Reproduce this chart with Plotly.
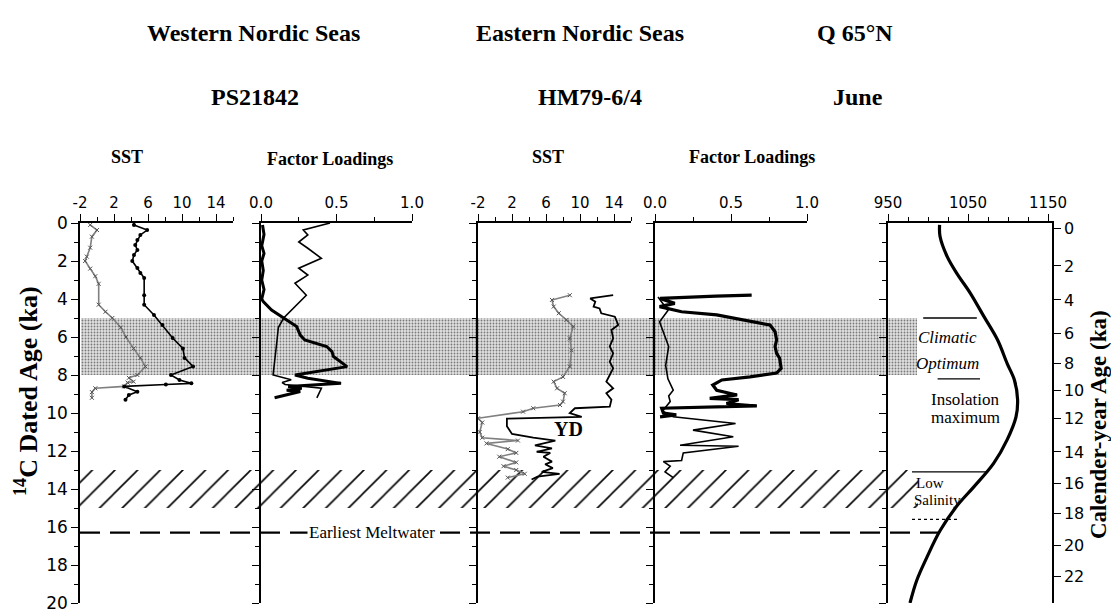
import plotly.graph_objects as go

# ---------------- data ----------------
# Western Nordic Seas, PS21842 - SST (deg C) vs 14C age (ka)
w_sst_cold_age = [0.1, 0.37, 0.72, 1.3, 1.77, 2.0, 2.4, 2.8, 3.2, 4.3, 4.67, 5.0, 5.5, 6.0, 6.6, 7.1, 7.55, 8.0, 8.15, 8.35, 8.4, 8.6, 8.7, 8.9, 9.2]
w_sst_cold = [-0.8, 0.0, -0.6, -0.8, -1.2, -1.4, -0.8, -0.2, 0.2, 0.2, 1.0, 1.8, 2.8, 3.4, 4.3, 5.1, 5.7, 4.75, 3.75, 4.3, 3.6, 3.2, -0.2, -0.6, -0.6]
w_sst_warm_age = [0.1, 0.37, 0.63, 0.9, 1.16, 1.42, 1.68, 2.0, 2.37, 2.63, 2.9, 3.8, 4.3, 4.84, 5.37, 6.05, 6.6, 7.1, 7.55, 8.0, 8.26, 8.44, 8.5, 8.6, 8.88, 9.05, 9.3]
w_sst_warm = [4.35, 5.9, 5.1, 4.75, 4.5, 4.75, 4.35, 4.15, 4.75, 5.1, 5.55, 5.55, 5.55, 6.7, 7.7, 8.9, 10.1, 10.3, 11.3, 8.7, 9.7, 11.1, 8.1, 3.2, 4.75, 3.75, 3.35]

# Western Nordic Seas - factor loadings
w_fl_thick_age = [0.1, 0.6, 1.2, 1.6, 2.0, 2.5, 3.0, 3.5, 4.0, 4.14, 4.58, 5.0, 5.45, 5.9, 6.16, 6.5, 6.77, 7.03, 7.56, 8.0, 8.17, 8.44, 8.6, 8.7, 8.8, 8.87, 9.2]
w_fl_thick = [0.01, 0.02, 0.005, 0.02, 0.005, 0.015, 0.005, 0.02, 0.005, 0.015, 0.07, 0.15, 0.236, 0.26, 0.29, 0.435, 0.47, 0.48, 0.57, 0.225, 0.31, 0.53, 0.18, 0.27, 0.17, 0.26, 0.09]
w_fl_thin_age = [0.0, 0.37, 0.63, 1.0, 1.33, 1.86, 2.38, 2.74, 3.17, 3.8, 5.0, 5.5, 6.25, 7.3, 8.0, 8.25, 8.4, 8.5, 8.7, 9.2]
w_fl_thin = [0.457, 0.28, 0.31, 0.25, 0.31, 0.40, 0.25, 0.31, 0.225, 0.30, 0.15, 0.115, 0.105, 0.09, 0.08, 0.2, 0.14, 0.16, 0.40, 0.37]

# Eastern Nordic Seas, HM79-6/4 - SST
e_sst_cold_age = [3.8, 4.05, 4.4, 4.75, 5.1, 5.45, 6.07, 6.7, 7.55, 8.1, 8.35, 8.7, 8.96, 9.4, 9.58, 9.75, 9.93, 10.28, 10.5, 11.0, 11.3, 11.45, 11.6, 11.9, 12.1, 12.3, 12.6, 12.8, 13.0, 13.2, 13.4]
e_sst_cold = [8.8, 6.7, 6.9, 7.5, 8.4, 9.2, 8.8, 9.0, 8.8, 8.0, 6.9, 7.3, 8.2, 8.0, 7.65, 4.5, 3.3, -2.0, -1.5, -1.8, -1.5, 2.7, -1.0, 1.5, 2.5, 0.5, 2.5, 1.0, 2.5, 3.5, 1.5]
e_sst_warm_age = [3.8, 3.97, 4.14, 4.4, 4.5, 4.75, 4.93, 5.37, 5.63, 6.07, 6.5, 6.86, 7.3, 7.65, 8.0, 8.35, 8.7, 8.96, 9.3, 9.67, 9.75, 10.0, 10.2, 10.3, 10.7, 11.1, 11.3, 11.45, 11.7, 11.86, 12.04, 12.1, 12.3, 12.56, 12.7, 12.9, 13.1, 13.2, 13.35, 13.5]
e_sst_warm = [13.9, 11.2, 11.8, 11.6, 12.3, 12.5, 14.1, 14.5, 13.7, 13.9, 13.5, 13.9, 13.5, 13.9, 13.5, 13.1, 13.9, 13.1, 13.7, 13.5, 9.4, 8.8, 10.2, 1.4, 1.4, 2.0, 4.5, 7.1, 4.7, 6.7, 4.9, 6.5, 5.7, 6.7, 5.9, 6.8, 5.5, 7.6, 5.0, 4.3]

# Eastern Nordic Seas - factor loadings
e_fl_thick_age = [3.8, 3.85, 3.97, 4.23, 4.4, 4.67, 4.84, 5.19, 5.37, 5.72, 6.16, 6.5, 6.86, 7.12, 7.65, 7.9, 8.1, 8.26, 8.53, 8.8, 9.05, 9.23, 9.3, 9.5, 9.63, 9.75, 10.0, 10.1, 10.2]
e_fl_thick = [0.636, 0.4, 0.033, 0.13, 0.03, 0.175, 0.406, 0.647, 0.757, 0.79, 0.80, 0.79, 0.80, 0.82, 0.83, 0.80, 0.625, 0.44, 0.38, 0.406, 0.54, 0.36, 0.55, 0.47, 0.67, 0.044, 0.055, 0.14, 0.033]
e_fl_thin_age = [3.9, 4.6, 5.2, 6.5, 7.5, 8.2, 8.8, 9.1, 9.4, 9.9, 10.2, 10.37, 10.55, 10.9, 11.25, 11.7, 11.75, 12.1, 12.5, 12.56, 12.8, 13.1, 13.4]
e_fl_thin = [0.02, 0.085, 0.03, 0.09, 0.07, 0.085, 0.12, 0.09, 0.10, 0.05, 0.12, 0.30, 0.53, 0.25, 0.515, 0.165, 0.55, 0.186, 0.175, 0.055, 0.10, 0.066, 0.12]

# Insolation, June 65N (W/m2)
ins_age = [0.1, 0.7, 1.77, 2.65, 3.7, 4.93, 6.16, 7.4, 8.26, 9.3, 10.2, 11.4, 12.65, 13.9, 14.9, 16.2, 17.56, 18.8, 20.0]
ins_val = [1014.5, 1015, 1024, 1036, 1053, 1070, 1087, 1099, 1108, 1112, 1110, 1099, 1082, 1057, 1036, 1015, 999, 986, 977.5]

# Calendar-year age ticks (positions on the 14C axis)
cal_tick_pos = [0.3, 2.26, 4.05, 5.8, 7.4, 8.8, 10.3, 12.05, 13.7, 15.3, 16.95, 18.6]
cal_tick_labels = ["0", "2", "4", "6", "8", "10", "12", "14", "16", "18", "20", "22"]

# Axis tick labels
sst_ticks = [-2, 2, 6, 10, 14]
sst_tick_labels = ["-2", "2", "6", "10", "14"]
fl_ticks = [0, 0.5, 1.0]
fl_tick_labels = ["0.0", "0.5", "1.0"]
ins_ticks = [950, 1050, 1150]

# Bands (14C ka)
optimum_band = [5.0, 8.0]
salinity_band = [13.0, 15.0]
meltwater_age = 16.3

# ---------------- layout helpers ----------------
W, H = 1111, 615
def px(x):
    return x / W
def py(y):
    return 1 - y / H

ydom = [py(603), py(223)]
panels = {
    2: [px(80), px(233)],
    3: [px(261), px(412)],
    4: [px(478), px(631)],
    5: [px(655), px(807)],
    6: [px(888), px(1052)],
}

TICKFONT = dict(family="DejaVu Sans", size=15, color="black")
SERIF = "Liberation Serif"

fig = go.Figure()

# band layer (subplot 1, drawn first, in pixel-like units)
band_x0, band_x1 = 81, 917
fig.add_trace(go.Scatter(
    x=[band_x0, band_x1, band_x1, band_x0, band_x0],
    y=[optimum_band[0], optimum_band[0], optimum_band[1], optimum_band[1], optimum_band[0]],
    fill="toself", mode="lines", line=dict(width=0),
    fillcolor="#dadada",
    fillpattern=dict(shape=".", fgcolor="#7a7a7a", bgcolor="#e0e0e0", size=3, solidity=0.3),
    xaxis="x", yaxis="y", hoverinfo="skip", showlegend=False))
fig.add_trace(go.Scatter(
    x=[80, 918, 918, 80, 80],
    y=[salinity_band[0], salinity_band[0], salinity_band[1], salinity_band[1], salinity_band[0]],
    fill="toself", mode="lines", line=dict(width=0),
    fillcolor="rgba(255,255,255,0)",
    fillpattern=dict(shape="/", fgcolor="black", bgcolor="rgba(255,255,255,0)", size=16, solidity=0.1),
    xaxis="x", yaxis="y", hoverinfo="skip", showlegend=False))

def gray_line(x, y, ax):
    return go.Scatter(x=x, y=y, mode="lines+markers", xaxis="x%d" % ax, yaxis="y%d" % ax,
                      line=dict(color="#808080", width=1.6),
                      marker=dict(symbol="x-thin", size=4, line=dict(color="#555", width=1)),
                      showlegend=False, hoverinfo="skip")

def black_line(x, y, ax, width=1.5, markers=False):
    return go.Scatter(x=x, y=y, mode="lines+markers" if markers else "lines",
                      xaxis="x%d" % ax, yaxis="y%d" % ax,
                      line=dict(color="black", width=width),
                      marker=dict(symbol="circle", size=4, color="black"),
                      showlegend=False, hoverinfo="skip")

fig.add_trace(gray_line(w_sst_cold, w_sst_cold_age, 2))
fig.add_trace(black_line(w_sst_warm, w_sst_warm_age, 2, 1.6, markers=True))
fig.add_trace(black_line(w_fl_thin, w_fl_thin_age, 3, 1.6))
fig.add_trace(black_line(w_fl_thick, w_fl_thick_age, 3, 3.0))
fig.add_trace(gray_line(e_sst_cold, e_sst_cold_age, 4))
fig.add_trace(black_line(e_sst_warm, e_sst_warm_age, 4, 1.8))
fig.add_trace(black_line(e_fl_thin, e_fl_thin_age, 5, 1.6))
fig.add_trace(black_line(e_fl_thick, e_fl_thick_age, 5, 3.2))
fig.add_trace(go.Scatter(x=ins_val, y=ins_age, mode="lines", xaxis="x6", yaxis="y6",
                         line=dict(color="black", width=3.2, shape="spline"),
                         showlegend=False, hoverinfo="skip"))
fig.add_trace(go.Scatter(x=[ins_val[0]], y=[ins_age[0]], mode="markers", xaxis="x6", yaxis="y7",
                         marker=dict(opacity=0), showlegend=False, hoverinfo="skip"))

axis_common = dict(showline=True, linecolor="black", linewidth=1.5, ticks="outside",
                   tickcolor="black", tickwidth=1.3, ticklen=7, showgrid=False, zeroline=False,
                   tickfont=TICKFONT, automargin=False)

lay = dict(
    template="none",
    width=W, height=H, margin=dict(l=0, r=0, t=0, b=0, pad=0, autoexpand=False),
    paper_bgcolor="white", plot_bgcolor="rgba(0,0,0,0)", showlegend=False,
    xaxis=dict(domain=[0, 1], range=[0, W], visible=False, fixedrange=True, automargin=False),
    yaxis=dict(domain=ydom, range=[20, 0], visible=False, fixedrange=True, automargin=False),
)

xranges = {2: [-2, 16], 3: [0, 1.0], 4: [-2, 16], 5: [0, 1.0], 6: [950, 1155]}
for k, dom in panels.items():
    xa = dict(axis_common, domain=dom, range=xranges[k], side="top", anchor="y%d" % k)
    if k in (2, 4):
        xa.update(tickvals=sst_ticks, ticktext=sst_tick_labels,
                  minor=dict(dtick=2, tick0=0, ticklen=4, tickcolor="black", ticks="outside"))
    elif k in (3, 5):
        xa.update(tickvals=fl_ticks, ticktext=fl_tick_labels,
                  minor=dict(tickvals=[0.25, 0.75], ticklen=4, tickcolor="black", ticks="outside"))
    else:
        xa.update(tickvals=ins_ticks,
                  minor=dict(dtick=25, tick0=950, ticklen=4, tickcolor="black", ticks="outside"))
    lay["xaxis%d" % k] = xa
    ya = dict(axis_common, domain=ydom, range=[20, 0], anchor="x%d" % k, dtick=2, tick0=0,
              minor=dict(dtick=1, ticklen=4, tickcolor="black", ticks="outside"),
              showticklabels=(k == 2), tickfont=dict(family="DejaVu Sans", size=17, color="black"))
    lay["yaxis%d" % k] = ya

lay["yaxis7"] = dict(axis_common, overlaying="y6", side="right", anchor="x6", range=[20, 0],
                     tickvals=cal_tick_pos, ticktext=cal_tick_labels,
                     tickfont=dict(family="DejaVu Sans", size=16, color="black"))

fig.update_layout(**lay)

# ---- meltwater dashed line ----
fig.add_shape(type="line", xref="x", yref="y", x0=80, x1=940, y0=meltwater_age, y1=meltwater_age,
              line=dict(color="black", width=2.2, dash="20px,10px"))
fig.add_annotation(x=372, y=meltwater_age, xref="x", yref="y", text="Earliest Meltwater",
                   showarrow=False, bgcolor="white", font=dict(family=SERIF, size=17, color="black"))

# ---- panel 5 annotation lines ----
fig.add_shape(type="line", xref="x6", yref="y6", x0=994, x1=1061, y0=5.0, y1=5.0, line=dict(color="black", width=1.3))
fig.add_shape(type="line", xref="x6", yref="y6", x0=1012, x1=1065, y0=8.2, y1=8.2, line=dict(color="black", width=1.3))
fig.add_shape(type="line", xref="x6", yref="y6", x0=980, x1=1074, y0=13.1, y1=13.1, line=dict(color="black", width=1.3))
fig.add_shape(type="line", xref="x6", yref="y6", x0=980, x1=1037, y0=15.6, y1=15.6, line=dict(color="black", width=1.3, dash="dot"))

def ann(x, y, text, size, italic=False, bold=False, xanchor="center", font=SERIF, angle=0):
    t = text
    if bold:
        t = "<b>%s</b>" % t
    if italic:
        t = "<i>%s</i>" % t
    fig.add_annotation(x=px(x), y=py(y), xref="paper", yref="paper", text=t, showarrow=False,
                       xanchor=xanchor, yanchor="middle", textangle=angle,
                       font=dict(family=font, size=size, color="black"))

ann(947, 337, "Climatic", 17, italic=True)
ann(947, 363, "Optimum", 17, italic=True)
ann(965, 399, "Insolation", 17)
ann(965, 417, "maximum", 17)
ann(914, 483, "Low", 15, xanchor="left")
ann(912, 500, "Salinity", 15, xanchor="left")
ann(568, 429, "YD", 20, bold=True)

# ---- titles ----
ann(253, 33, "Western Nordic Seas", 24, bold=True)
ann(580, 33, "Eastern Nordic Seas", 24, bold=True)
ann(855, 33, "Q 65°N", 24, bold=True)
ann(255, 97, "PS21842", 24, bold=True)
ann(590, 97, "HM79-6/4", 24, bold=True)
ann(858, 97, "June", 24, bold=True)
ann(127, 157, "SST", 18, bold=True)
ann(330, 159, "Factor Loadings", 18, bold=True)
ann(548, 157, "SST", 18, bold=True)
ann(752, 157, "Factor Loadings", 18, bold=True)

ann(26, 391, "<sup>14</sup>C Dated Age (ka)", 26, bold=True, angle=-90)
ann(1098, 425, "Calender-year Age (ka)", 23, bold=True, angle=-90)

fig.write_html("out.html", post_script="document.body.style.margin='0';",
               config={"displayModeBar": False})
